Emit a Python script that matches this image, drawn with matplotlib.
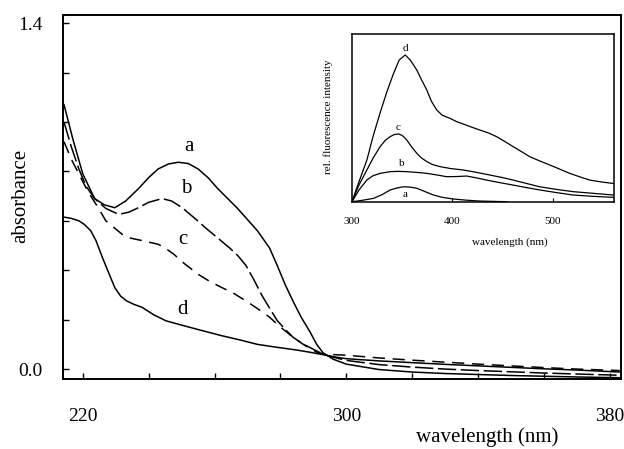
import matplotlib
matplotlib.use("Agg")
import matplotlib.pyplot as plt

plt.rcParams['font.family'] = ['Liberation Serif', 'DejaVu Serif']

# ---- main absorbance spectra (wavelength nm, absorbance) ----
wl_a = [214.3, 217, 220, 223.6, 226.5, 229.7, 233, 236.9, 240, 242.9, 246, 249, 252, 255, 258, 261, 264, 267, 270, 273,
        276.7, 279, 281.5, 284, 286.3, 289, 291, 293, 296, 300, 310, 320, 330, 340, 350, 360, 370, 383]
abs_a = [1.07, 0.93, 0.79, 0.69, 0.665, 0.653, 0.68, 0.73, 0.775, 0.81, 0.83, 0.837, 0.832, 0.81, 0.775, 0.73, 0.69,
         0.65, 0.605, 0.56, 0.49, 0.42, 0.34, 0.27, 0.21, 0.15, 0.10, 0.065, 0.04, 0.02, -0.002, -0.012, -0.018,
         -0.022, -0.026, -0.029, -0.032, -0.035]

wl_b = [214.3, 216.5, 218.8, 221, 223.6, 227, 230.9, 234, 236.9, 240, 244.1, 247, 250.2, 254, 257.4, 261, 264.6, 267,
        269.5, 272, 274.3, 277, 279.1, 281.5, 283.9, 287, 290, 293, 296, 300, 310, 320, 330, 340, 350, 360, 370, 383]
abs_b = [1.0, 0.9, 0.81, 0.74, 0.69, 0.65, 0.626, 0.635, 0.653, 0.675, 0.69, 0.68, 0.653, 0.61, 0.57, 0.53, 0.49,
         0.46, 0.42, 0.36, 0.30, 0.24, 0.195, 0.16, 0.128, 0.10, 0.08, 0.06, 0.048, 0.035, 0.018, 0.008, 0.0,
         -0.006, -0.011, -0.016, -0.02, -0.025]

wl_c = [214.3, 216.5, 218.8, 221.5, 224.8, 227, 229.7, 232, 234.5, 238, 242.9, 245, 247.7, 251, 255, 258.5, 262.2,
        266, 269.5, 273, 276.7, 280, 283.9, 287.5, 291.2, 294, 297, 300, 310, 320, 330, 340, 350, 360, 370, 383]
abs_c = [0.92, 0.85, 0.79, 0.72, 0.65, 0.6, 0.57, 0.545, 0.53, 0.52, 0.505, 0.49, 0.464, 0.425, 0.384, 0.355, 0.33,
         0.305, 0.276, 0.245, 0.21, 0.17, 0.128, 0.095, 0.067, 0.06, 0.058, 0.056, 0.045, 0.036, 0.028, 0.02, 0.013,
         0.006, 0.0, -0.006]

wl_d = [214.3, 216.5, 218.8, 220.5, 222.4, 224, 226, 228, 229.7, 231.5, 233.3, 235.5, 238, 241.5, 245.3, 250, 255,
        262.2, 268, 273, 279, 285, 289, 293, 297, 300, 310, 320, 330, 340, 350, 360, 370, 383]
abs_d = [0.615, 0.61, 0.60, 0.585, 0.56, 0.52, 0.45, 0.385, 0.33, 0.295, 0.276, 0.262, 0.25, 0.22, 0.195, 0.178,
         0.16, 0.135, 0.117, 0.10, 0.088, 0.077, 0.068, 0.058, 0.048, 0.042, 0.033, 0.026, 0.019, 0.013, 0.007,
         0.001, -0.004, -0.012]

main_labels = ['a', 'b', 'c', 'd']
main_label_pos = [(252.3, 0.90), (251.4, 0.73), (250.4, 0.525), (250.2, 0.242)]

# ---- inset fluorescence spectra (wavelength nm, rel. intensity) ----
fl_wl_d = [300, 307, 314.9, 321, 328, 335, 341.4, 347, 353, 358, 364.6, 369, 374.5, 379, 384.4, 390, 397.7, 404,
           410.9, 419, 427.5, 436, 444, 452, 460.6, 469, 477.2, 487, 497, 507, 516.9, 527, 536.8, 548, 560]
fl_d = [0.0, 0.12, 0.25, 0.39, 0.53, 0.66, 0.765, 0.845, 0.875, 0.845, 0.785, 0.73, 0.666, 0.60, 0.547, 0.515,
        0.497, 0.478, 0.463, 0.445, 0.427, 0.41, 0.388, 0.36, 0.328, 0.298, 0.268, 0.243, 0.219, 0.194, 0.169,
        0.148, 0.129, 0.118, 0.109]

fl_wl_c = [300, 307, 314.9, 321, 328, 333, 338, 342, 346.4, 350, 354.6, 359, 364.6, 369, 374.5, 380, 387.7, 398,
           410.9, 424, 437.4, 449, 460.6, 473, 487, 503, 520, 540, 560]
fl_c = [0.0, 0.1, 0.19, 0.26, 0.328, 0.365, 0.388, 0.4, 0.404, 0.395, 0.368, 0.33, 0.288, 0.262, 0.239, 0.222, 0.209,
        0.198, 0.189, 0.175, 0.159, 0.145, 0.129, 0.11, 0.089, 0.074, 0.06, 0.05, 0.04]

fl_wl_b = [300, 307, 314.9, 321, 328, 338, 346, 354.6, 364, 374.5, 384, 394.4, 404, 414.2, 424, 434, 447, 460.6, 473,
           487, 503, 520, 540, 560]
fl_b = [0.0, 0.07, 0.13, 0.155, 0.169, 0.179, 0.181, 0.179, 0.175, 0.169, 0.16, 0.149, 0.15, 0.153, 0.142, 0.129,
        0.114, 0.099, 0.085, 0.07, 0.055, 0.04, 0.032, 0.026]

fl_wl_a = [300, 310, 321.5, 330, 338, 345, 351.3, 358, 364.6, 372, 381.1, 390, 401, 414, 427.5, 440, 454]
fl_a = [0.0, 0.008, 0.02, 0.042, 0.07, 0.082, 0.089, 0.087, 0.08, 0.062, 0.04, 0.026, 0.016, 0.009, 0.004, 0.002, 0.0]

inset_labels = ['d', 'c', 'b', 'a']
inset_label_pos = [(353, 0.915), (345.4, 0.44), (349.7, 0.225), (353, 0.045)]

x_ticks = [220, 240, 260, 280, 300, 320, 340, 360, 380]
x_tick_labels = ['220', '', '', '', '300', '', '', '', '380']
y_ticks = [0.0, 0.2, 0.4, 0.6, 0.8, 1.0, 1.2, 1.4]
y_tick_labels = ['0.0', '', '', '', '', '', '', '1.4']
inset_x_ticks = [300, 400, 500]

# ---- figure ----
fig = plt.figure(figsize=(6.24, 4.49), dpi=100)
ax = fig.add_axes([0.101, 0.156, 0.8937, 0.8106])

ax.plot(wl_a, abs_a, color='black', lw=1.1)
ax.plot(wl_b, abs_b, color='black', lw=1.1, dashes=(12, 3))
ax.plot(wl_c, abs_c, color='black', lw=1.1, dashes=(8, 5))
ax.plot(wl_d, abs_d, color='black', lw=1.1)

for lab, (lx, ly) in zip(main_labels, main_label_pos):
    ax.text(lx, ly, lab, fontsize=15, ha='center', va='center')

ax.set_xlim(214.0, 383.3)
ax.set_ylim(-0.04, 1.433)
ax.set_xticks(x_ticks)
ax.set_xticklabels(x_tick_labels)
ax.set_yticks(y_ticks)
ax.set_yticklabels(y_tick_labels)
ax.tick_params(axis='x', direction='in', length=4, width=1, pad=21, labelsize=14)
ax.tick_params(axis='y', direction='in', length=4, width=1, pad=15, labelsize=14)
for s in ax.spines.values():
    s.set_linewidth(1.4)

fig.text(487 / 624, 1 - 437 / 449, 'wavelength (nm)', fontsize=15, ha='center', va='center')
fig.text(21 / 624, 1 - 196 / 449, 'absorbance', fontsize=15, ha='center', va='center', rotation=90)

# ---- inset ----
ins = fig.add_axes([352 / 624, 1 - 201.7 / 449, (614 - 352) / 624, (201.7 - 34) / 449])
ins.plot(fl_wl_d, fl_d, color='black', lw=0.9)
ins.plot(fl_wl_c, fl_c, color='black', lw=0.9)
ins.plot(fl_wl_b, fl_b, color='black', lw=0.9)
ins.plot(fl_wl_a, fl_a, color='black', lw=0.9)
for lab, (lx, ly) in zip(inset_labels, inset_label_pos):
    ins.text(lx, ly, lab, fontsize=8, ha='center', va='center')
ins.set_xlim(300, 561)
ins.set_ylim(0, 1)
ins.set_xticks(inset_x_ticks)
ins.set_yticks([])
ins.tick_params(axis='x', direction='in', length=3, width=0.8, pad=11, labelsize=8)
for s in ins.spines.values():
    s.set_linewidth(1.1)
fig.text(510 / 624, 1 - 242 / 449, 'wavelength (nm)', fontsize=8, ha='center', va='center')
fig.text(328 / 624, 1 - 117 / 449, 'rel. fluorescence intensity', fontsize=8, ha='center', va='center',
         rotation=90)

fig.savefig('out.png', dpi=100)
